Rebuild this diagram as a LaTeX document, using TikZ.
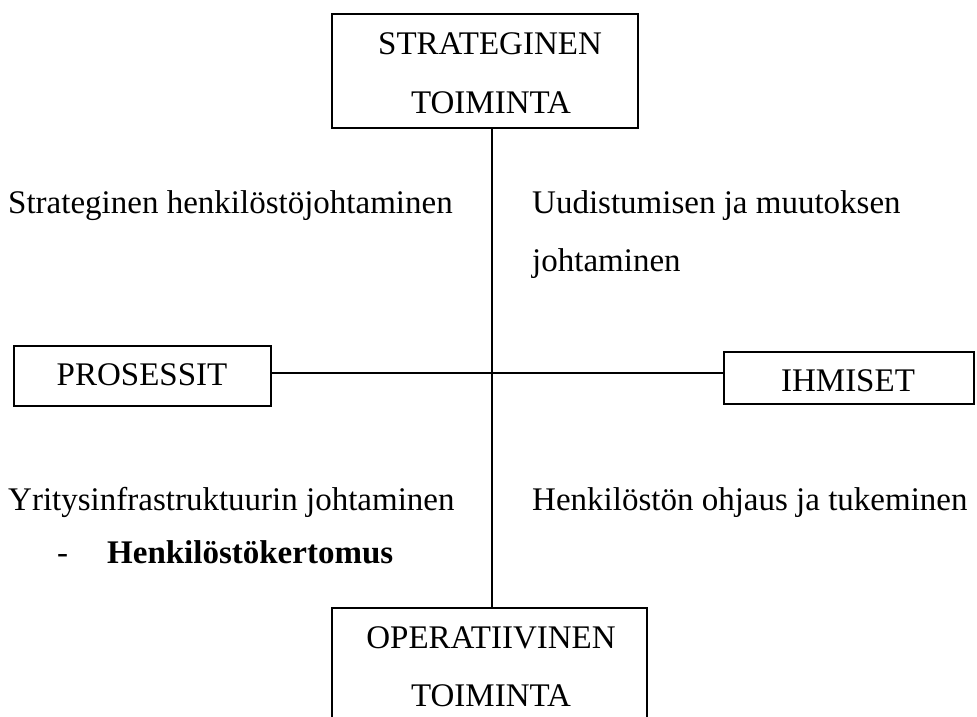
\documentclass[tikz,border=0pt]{standalone}
\usepackage{fontspec}
\setmainfont{Liberation Serif}
\begin{document}
\begin{tikzpicture}[x=1pt,y=-1pt,
  txt/.style={inner sep=0pt,font=\fontsize{33}{40}\selectfont},
  box/.style={draw,line width=1.5pt,inner sep=0pt,anchor=north west},
  link/.style={line width=1.5pt}]
\useasboundingbox (0,0) rectangle (977,716);
\clip (0,0) rectangle (977,716);

% boxes
\node[box,minimum width=306pt,minimum height=114pt] (strat) at (331,13) {};
\node[box,minimum width=257pt,minimum height=60pt]  (pros)  at (13,345) {};
\node[box,minimum width=250pt,minimum height=52pt]  (ihm)   at (723,351) {};
\node[box,minimum width=315pt,minimum height=160pt] (oper)  at (331,607) {};

% box captions
\node[txt,anchor=base] (stratA) at (490,54)  {STRATEGINEN};
\node[txt,anchor=base] (stratB) at (491,113) {TOIMINTA};
\node[txt,anchor=base] (prosT)  at (142,385) {PROSESSIT};
\node[txt,anchor=base] (ihmT)   at (848,391) {IHMISET};
\node[txt,anchor=base] (operA)  at (491,648) {OPERATIIVINEN};
\node[txt,anchor=base] (operB)  at (491,706) {TOIMINTA};

% crossing lines
\coordinate (hub) at (492,373);
\draw[link] (strat.south -| hub) -- (oper.north -| hub);
\draw[link] (pros.east |- hub) -- (ihm.west |- hub);

% quadrant texts
\node[txt,anchor=base west] (q1)  at (8,213)   {Strateginen henkilöstöjohtaminen};
\node[txt,anchor=base west] (q2a) at (532,213) {Uudistumisen ja muutoksen};
\node[txt,anchor=base west] (q2b) at (532,271) {johtaminen};
\node[txt,anchor=base west] (q3)  at (8,510)   {Yritysinfrastruktuurin johtaminen};
\node[txt,anchor=base west] (q3d) at (57,563)  {-};
\node[txt,anchor=base west,font=\fontsize{33}{40}\selectfont\bfseries] (q3b) at (107,563) {Henkilöstökertomus};
\node[txt,anchor=base west] (q4)  at (532,510) {Henkilöstön ohjaus ja tukeminen};
\end{tikzpicture}
\end{document}
